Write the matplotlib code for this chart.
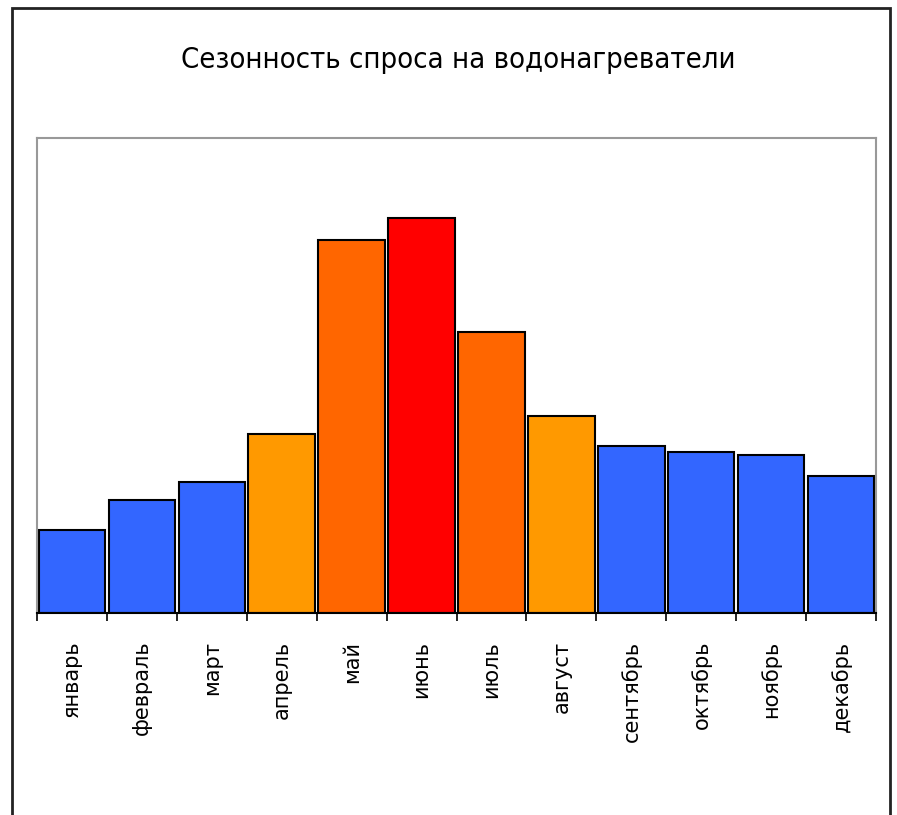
import matplotlib
matplotlib.use('Agg')
import matplotlib.pyplot as plt
import numpy as np
from matplotlib.patches import Rectangle

# months and relative demand
months = ['январь', 'февраль', 'март', 'апрель', 'май', 'июнь',
          'июль', 'август', 'сентябрь', 'октябрь', 'ноябрь', 'декабрь']
demand = [83, 113, 131, 179, 373, 395, 281, 197, 167, 161, 158, 137]
bar_colors = ['#3366FF', '#3366FF', '#3366FF', '#FF9900', '#FF6600', '#FF0000',
              '#FF6600', '#FF9900', '#3366FF', '#3366FF', '#3366FF', '#3366FF']
title = 'Сезонность спроса на водонагреватели'

fig = plt.figure(figsize=(8.97, 8.15), dpi=100)

# outer frame around the whole chart
top = 1 - 8 / 815
fig.patches.append(Rectangle((12 / 897, -0.02), 878 / 897, top + 0.02,
                             transform=fig.transFigure, fill=False,
                             edgecolor='#222222', linewidth=2))

ax = fig.add_axes([37 / 897, 1 - 613 / 815, 839 / 897, 475 / 815])
x = np.arange(len(months))
ax.bar(x, demand, width=0.95, color=bar_colors, edgecolor='black', linewidth=1.5)

ax.set_xlim(-0.5, len(months) - 0.5)
ax.set_ylim(0, 475)
ax.set_yticks([])

# ticks between the bars, labels under the bars
ax.set_xticks(x)
ax.set_xticklabels(months, rotation=90, fontsize=15, family='DejaVu Sans',
                   va='top')
ax.tick_params(axis='x', which='major', length=0, pad=20)
ax.set_xticks(np.arange(-0.5, len(months), 1), minor=True)
ax.tick_params(axis='x', which='minor', length=6, width=1.2, color='black')

for side in ['top', 'left', 'right']:
    ax.spines[side].set_color('#999999')
    ax.spines[side].set_linewidth(1.5)
ax.spines['bottom'].set_color('black')
ax.spines['bottom'].set_linewidth(1.5)

fig.text(458 / 897, 1 - 60 / 815, title, ha='center', va='center',
         fontsize=21, family='DejaVu Sans', stretch='condensed')

fig.savefig('out.png', dpi=100)
